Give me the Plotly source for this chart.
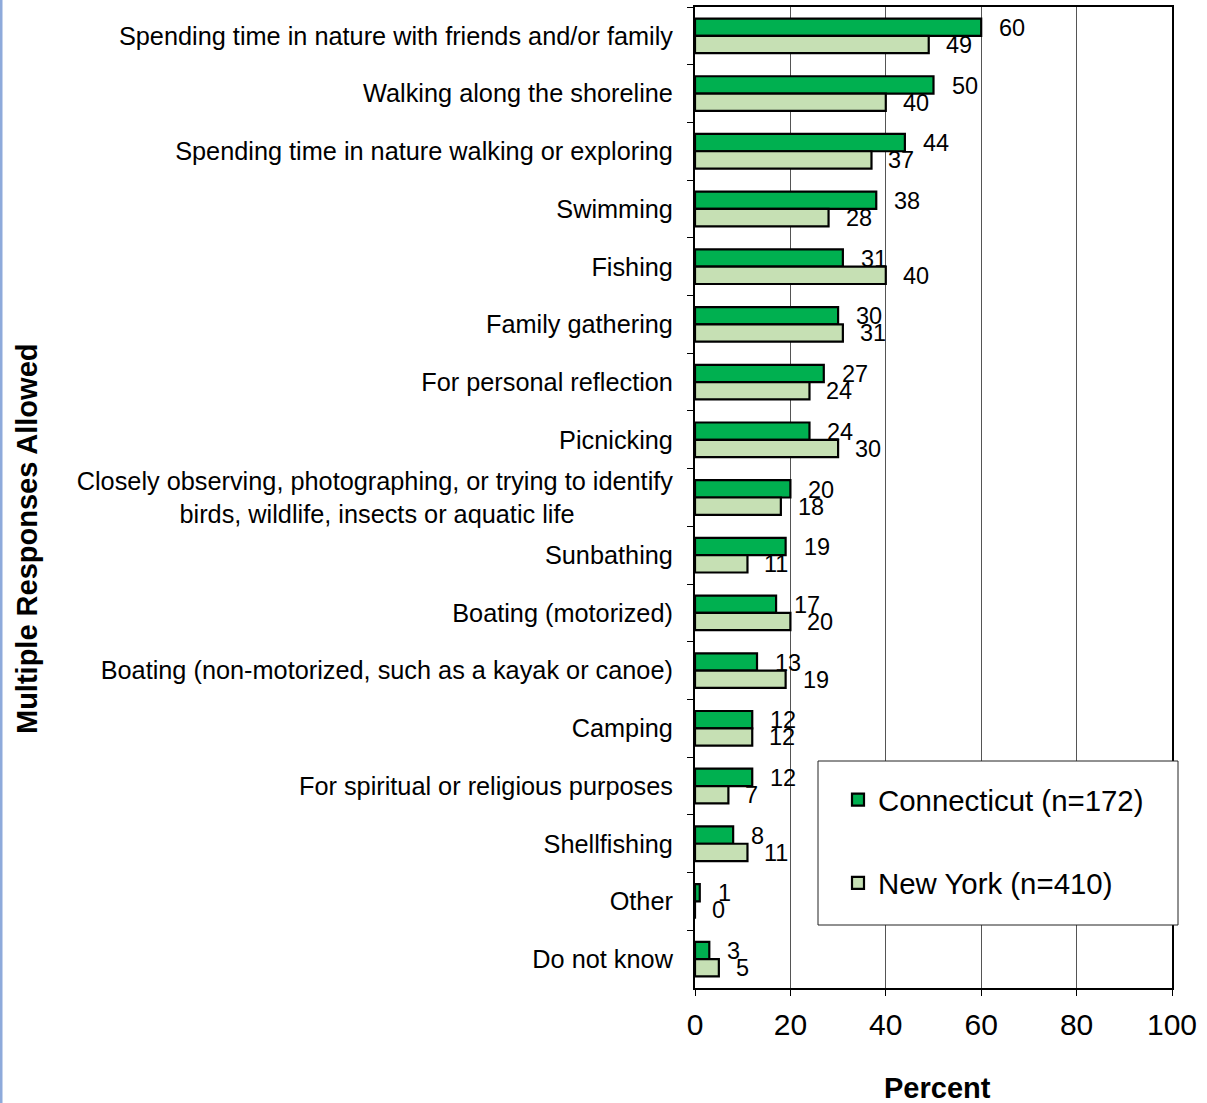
import plotly.graph_objects as go

categories = [
    "Spending time in nature with friends and/or family",
    "Walking along the shoreline",
    "Spending time in nature walking or exploring",
    "Swimming",
    "Fishing",
    "Family gathering",
    "For personal reflection",
    "Picnicking",
    "Closely observing, photographing, or trying to identify<br>birds, wildlife, insects or aquatic life" + "\u00a0" * 14,
    "Sunbathing",
    "Boating (motorized)",
    "Boating (non-motorized, such as a kayak or canoe)",
    "Camping",
    "For spiritual or religious purposes",
    "Shellfishing",
    "Other",
    "Do not know",
]
connecticut = [60, 50, 44, 38, 31, 30, 27, 24, 20, 19, 17, 13, 12, 12, 8, 1, 3]
new_york = [49, 40, 37, 28, 40, 31, 24, 30, 18, 11, 20, 19, 12, 7, 11, 0, 5]
series_names = ["Connecticut (n=172)", "New York (n=410)"]
x_ticks = [0, 20, 40, 60, 80, 100]

FONT = "Liberation Sans, Arial, sans-serif"
CT_COLOR = "#00B050"
NY_COLOR = "#C6E0B4"

W, H = 1207, 1103
ML, MR, MT, MB = 695, 35, 7, 115
PW = W - ML - MR
PH = H - MT - MB


def px_x(p):
    return (p - ML) / PW


def px_y(p):
    return (H - MB - p) / PH


fig = go.Figure()
fig.add_trace(go.Bar(
    y=categories, x=connecticut, orientation="h", name=series_names[0],
    marker=dict(color=CT_COLOR, line=dict(color="black", width=2.2)),
    legendgroup="ct",
))
fig.add_trace(go.Bar(
    y=categories, x=new_york, orientation="h", name=series_names[1],
    marker=dict(color=NY_COLOR, line=dict(color="black", width=2.2)),
    legendgroup="ny",
))

annotations = []
for cat, v in zip(categories, connecticut):
    annotations.append(dict(x=v, y=cat, xref="x", yref="y", text=str(v), showarrow=False,
                            xanchor="left", yanchor="middle", xshift=16, yshift=8,
                            font=dict(family=FONT, size=23.5, color="black")))
for cat, v in zip(categories, new_york):
    annotations.append(dict(x=v, y=cat, xref="x", yref="y", text=str(v), showarrow=False,
                            xanchor="left", yanchor="middle", xshift=15, yshift=-9,
                            font=dict(family=FONT, size=23.5, color="black")))

# axis titles
annotations.append(dict(x=px_x(27), y=px_y(539), xref="paper", yref="paper",
                        text="<b>Multiple Responses Allowed</b>", textangle=-90, showarrow=False,
                        xanchor="center", yanchor="middle",
                        font=dict(family=FONT, size=29, color="black")))
annotations.append(dict(x=px_x(937), y=px_y(1088), xref="paper", yref="paper",
                        text="<b>Percent</b>", showarrow=False,
                        xanchor="center", yanchor="middle",
                        font=dict(family=FONT, size=29, color="black")))

shapes = [
    # legend box
    dict(type="rect", xref="paper", yref="paper", x0=px_x(818), x1=px_x(1178),
         y0=px_y(925), y1=px_y(761), fillcolor="white", line=dict(color="#222222", width=1),
         layer="above"),
    # left page border
    dict(type="rect", xref="paper", yref="paper", x0=px_x(0), x1=px_x(2.5),
         y0=px_y(H), y1=px_y(0), fillcolor="#8EAADB", line=dict(width=0), layer="above"),
]

fig.update_layout(
    width=W, height=H,
    margin=dict(l=ML, r=MR, t=MT, b=MB, autoexpand=False),
    paper_bgcolor="white", plot_bgcolor="white",
    barmode="group", bargap=0.40, bargroupgap=0,
    font=dict(family=FONT, color="black"),
    showlegend=True,
    legend=dict(x=px_x(838), y=px_y(774), xanchor="left", yanchor="top",
                bgcolor="rgba(0,0,0,0)", borderwidth=0,
                traceorder="grouped", tracegroupgap=42,
                font=dict(family=FONT, size=29.4, color="black")),
    annotations=annotations,
    shapes=shapes,
)

fig.update_xaxes(
    range=[0, 100], tickvals=x_ticks, ticktext=[str(t) for t in x_ticks],
    showgrid=True, gridcolor="#555555", gridwidth=1, zeroline=False,
    showline=True, linecolor="black", linewidth=2, mirror=True,
    ticks="outside", ticklen=6, tickcolor="black", tickwidth=1,
    tickfont=dict(family=FONT, size=30, color="black"),
    ticklabelstandoff=3,
)
fig.update_yaxes(
    autorange="reversed", type="category",
    showgrid=False, zeroline=False,
    showline=True, linecolor="black", linewidth=2, mirror=True,
    ticks="outside", ticklen=6, tickcolor="black", tickwidth=1, tickson="boundaries",
    tickfont=dict(family=FONT, size=25.3, color="black"),
    ticklabelstandoff=15,
)

fig.write_html("out.html", config={"displayModeBar": False},
               post_script="document.body.style.margin='0';document.body.style.overflow='hidden';")
